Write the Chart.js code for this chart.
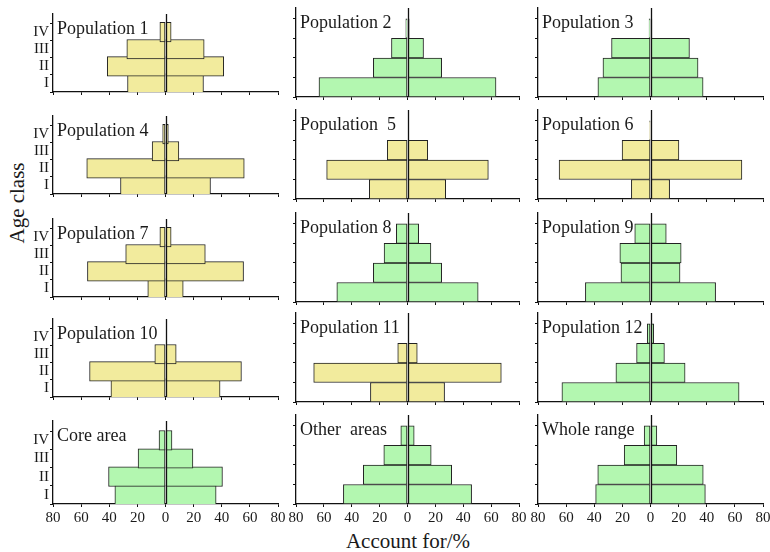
<!DOCTYPE html>
<html>
<head>
<meta charset="utf-8">
<script src="https://cdn.jsdelivr.net/npm/chart.js@4.4.1/dist/chart.umd.min.js"></script>
<style>
  body { margin: 0; background: #fff; }
  #wrap { position: relative; width: 770px; height: 552px; overflow: hidden; font-family: "Liberation Serif", "DejaVu Serif", serif; }
  canvas { position: absolute; }
  .axt { position: absolute; font-size: 21px; color: #1a1a1a; white-space: nowrap; }
</style>
</head>
<body>
<div id="wrap">
  <div class="axt" style="left:408px; top:541px; transform:translate(-50%,-50%);">Account for/%</div>
  <div class="axt" style="left:17px; top:203px; transform:translate(-50%,-50%) rotate(-90deg);">Age class</div>
</div>
<script>
(function() {
  'use strict';

  // age classes, bottom to top
  var AGE_LABELS = ['I', 'II', 'III', 'IV'];
  var X_TICKS = [-80, -60, -40, -20, 0, 20, 40, 60, 80];

  var PANEL_TITLES = [
    'Population 1', 'Population 2', 'Population 3',
    'Population 4', 'Population  5', 'Population 6',
    'Population 7', 'Population 8', 'Population 9',
    'Population 10', 'Population 11', 'Population 12',
    'Core area', 'Other  areas', 'Whole range'
  ];

  // share (%) of each age class I..IV, drawn on both sides
  var pop1  = [27, 41.4, 27.5, 4];
  var pop2  = [63.5, 24.5, 11.5, 1.2];
  var pop3  = [37.4, 33.8, 27.7, 1];
  var pop4  = [32, 56, 9.5, 2];
  var pop5  = [27.4, 58, 14.5, 0];
  var pop6  = [13.6, 65, 20.2, 0.6];
  var pop7  = [12.6, 55.5, 28.3, 4];
  var pop8  = [50.7, 24.5, 16.8, 8];
  var pop9  = [46.3, 21, 21.8, 11.2];
  var pop10 = [38.8, 54, 7.6, 0];
  var pop11 = [26.6, 67.3, 7, 0];
  var pop12 = [63, 24.6, 9.9, 2.3];
  var coreArea   = [36, 40.5, 19.5, 4.6];
  var otherAreas = [46, 31.7, 17, 4.8];
  var wholeRange = [39, 37.5, 18.7, 4.5];

  var PANEL_DATA = [pop1, pop2, pop3, pop4, pop5, pop6, pop7, pop8, pop9,
    pop10, pop11, pop12, coreArea, otherAreas, wholeRange];
  // Y = yellow, G = green
  var PANEL_COLOR = ['Y', 'G', 'G', 'Y', 'Y', 'Y', 'Y', 'G', 'G', 'Y', 'Y', 'G', 'G', 'G', 'G'];

  var COLORS = { Y: '#f2eb9d', G: '#b3f7b0', line: '#111111', text: '#1a1a1a' };
  var FONT = '"Liberation Serif", "DejaVu Serif", serif';

  var COL_LEFT = [53, 296, 538];
  var COL_W = [225, 223, 225];
  var ROW_TOP = [8, 110, 213, 313, 415];
  var PLOT_H = 89;
  var Y_MIN = 0.5, Y_MAX = 5.06;
  var Y_AXIS_W = 50;
  var PAD_TOP = 4, PAD_RIGHT = 14;

  var panelDeco = {
    id: 'panelDeco',
    beforeDatasetsDraw: function(chart) {
      var ctx = chart.ctx, a = chart.chartArea;
      ctx.save();
      ctx.font = '18px ' + FONT;
      ctx.fillStyle = COLORS.text;
      ctx.textBaseline = 'alphabetic';
      ctx.fillText(chart.options.plugins.panelDeco.title, a.left + 4, a.top + 20);
      ctx.restore();
    },
    afterDatasetsDraw: function(chart) {
      var ctx = chart.ctx, a = chart.chartArea;
      var x0 = Math.round(chart.scales.x.getPixelForValue(0)) + 0.5;
      ctx.save();
      ctx.strokeStyle = COLORS.line;
      ctx.lineWidth = 1.3;
      ctx.beginPath();
      ctx.moveTo(x0, a.top);
      ctx.lineTo(x0, a.bottom);
      ctx.stroke();
      ctx.restore();
    }
  };

  function makePanel(i) {
    var row = Math.floor(i / 3), col = i % 3;
    var bottomRow = row === 4, leftCol = col === 0;
    var xH = bottomRow ? 26 : 5;
    var w = Y_AXIS_W + COL_W[col] + PAD_RIGHT;
    var h = PAD_TOP + PLOT_H + xH;

    var canvas = document.createElement('canvas');
    canvas.width = w; canvas.height = h;
    canvas.style.left = (COL_LEFT[col] - Y_AXIS_W) + 'px';
    canvas.style.top = (ROW_TOP[row] - PAD_TOP) + 'px';
    canvas.style.width = w + 'px'; canvas.style.height = h + 'px';
    document.getElementById('wrap').appendChild(canvas);

    var vals = PANEL_DATA[i];
    var fill = COLORS[PANEL_COLOR[i]];
    var left = vals.map(function(v, k) { return { x: -v, y: k + 1 }; });
    var right = vals.map(function(v, k) { return { x: v, y: k + 1 }; });
    var barStyle = {
      backgroundColor: fill, borderColor: '#222', borderWidth: 1,
      borderSkipped: false, grouped: false,
      barThickness: PLOT_H / (Y_MAX - Y_MIN)
    };

    new Chart(canvas.getContext('2d'), {
      type: 'bar',
      data: {
        datasets: [
          Object.assign({ label: 'left', data: left }, barStyle),
          Object.assign({ label: 'right', data: right }, barStyle)
        ]
      },
      options: {
        indexAxis: 'y',
        responsive: false,
        animation: false,
        layout: { padding: { left: 0, top: PAD_TOP, right: PAD_RIGHT, bottom: 0 } },
        plugins: {
          legend: { display: false },
          tooltip: { enabled: false },
          panelDeco: { title: PANEL_TITLES[i] }
        },
        scales: {
          x: {
            type: 'linear', min: -80, max: 80, offset: false,
            afterBuildTicks: function(s) { s.ticks = X_TICKS.map(function(v) { return { value: v }; }); },
            afterFit: function(s) { s.height = xH; },
            grid: { drawOnChartArea: false, drawTicks: true, tickLength: 3, color: COLORS.line },
            border: { display: true, color: COLORS.line, width: 1.3 },
            ticks: {
              display: bottomRow, color: COLORS.text, padding: 2, maxRotation: 0, autoSkip: false,
              font: { family: FONT, size: 15 },
              callback: function(v) { return String(Math.abs(v)); }
            }
          },
          y: {
            type: 'linear', min: Y_MIN, max: Y_MAX, offset: false,
            afterBuildTicks: function(s) { s.ticks = AGE_LABELS.map(function(l, k) { return { value: k + 1 }; }); },
            afterFit: function(s) { s.width = Y_AXIS_W; },
            grid: { drawOnChartArea: false, drawTicks: true, tickLength: 3, color: COLORS.line },
            border: { display: true, color: COLORS.line, width: 1.3 },
            ticks: {
              display: leftCol, color: COLORS.text, padding: 1, autoSkip: false,
              font: { family: FONT, size: 15 },
              callback: function(v) { return AGE_LABELS[v - 1] || ''; }
            }
          }
        }
      },
      plugins: [panelDeco]
    });
  }

  for (var i = 0; i < PANEL_TITLES.length; i++) makePanel(i);
})();
</script>
</body>
</html>
